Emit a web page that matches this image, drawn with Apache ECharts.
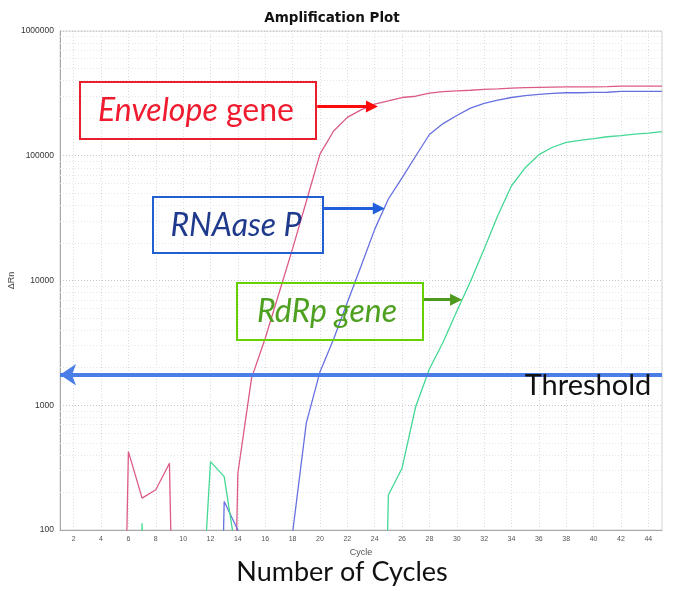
<!DOCTYPE html>
<html><head><meta charset="utf-8">
<script src="https://cdn.jsdelivr.net/npm/echarts@6/dist/echarts.min.js"></script>
<style>html,body{margin:0;padding:0;background:#fff}#c{width:675px;height:591px}</style>
</head><body><div id="c"></div>
<script>
// ---- data ----
const cycles = [1,2,3,4,5,6,7,8,9,10,11,12,13,14,15,16,17,18,19,20,21,22,23,24,25,26,27,28,29,30,31,32,33,34,35,36,37,38,39,40,41,42,43,44,45];
// values below the axis minimum (under detection) are given as 0.001
const envelopeGene = [0.001,0.001,0.001,0.001,0.001,425,180,210,343,0.001,0.001,0.001,0.001,285,1650,3440,7870,18000,43000,103000,158000,203000,233000,259000,275000,293000,300000,318000,326000,331000,335000,340000,343000,348000,351000,353000,355000,357000,357000,357000,358000,361000,361000,361000,361000];
const rnaseP = [0.001,0.001,0.001,0.001,0.001,0.001,0.001,0.001,0.001,0.001,0.001,0.001,169,100,0.001,0.001,0.001,95,718,1850,3400,6650,13000,25700,45000,66500,99500,148000,181000,210000,241000,263000,279000,293000,303000,311000,316000,320000,320000,322000,323000,328000,328000,328000,328000];
const rdrpGene = [0.001,0.001,0.001,0.001,0.001,0.001,113,0.001,0.001,0.001,4.5,353,268,52,0.001,0.001,0.001,0.001,0.001,0.001,0.001,0.001,0.001,0.001,191,313,977,1950,3200,5660,9800,17900,33200,57500,80000,102000,117000,128000,133000,137000,142000,145000,149000,152000,156000];
const xTickValues = [2,4,6,8,10,12,14,16,18,20,22,24,26,28,30,32,34,36,38,40,42,44];
const yMinorValues = [200,300,400,500,600,700,800,900,2000,3000,4000,5000,6000,7000,8000,9000,20000,30000,40000,50000,60000,70000,80000,90000,200000,300000,400000,500000,600000,700000,800000,900000];
const thresholdValue = 1755;
// annotation arrows: [cycle start, cycle end (arrowhead centre), ΔRn]
const envelopeArrow = [19.8, 23.8, 248000];
const rnasePArrow = [20.3, 24.3, 37700];
const rdrpArrow = [27.6, 29.95, 7020];

const pairs = vals => cycles.map((c, i) => [c, vals[i]]);

const chart = echarts.init(document.getElementById('c'), null, {renderer: 'canvas'});
const lineBase = {type: 'line', showSymbol: false, symbol: 'none', clip: true, animation: false, silent: true};
const arrowItem = (a, color) => [
  {coord: [a[0], a[2]], symbol: 'none', lineStyle: {color, width: 3, type: 'solid'}, itemStyle: {color}},
  {coord: [a[1], a[2]], symbol: 'triangle', symbolSize: 12, lineStyle: {color, width: 3, type: 'solid'}, itemStyle: {color}}
];

chart.setOption({
  animation: false,
  backgroundColor: '#fff',
  grid: {left: 60, right: 13, top: 31, bottom: 61, containLabel: false, outerBoundsMode: 'none', show: true, borderColor: '#d4d4d4', borderWidth: 1},
  xAxis: {
    type: 'value', min: 1, max: 45,
    name: 'Cycle', nameLocation: 'middle', nameGap: 18,
    nameTextStyle: {fontFamily: 'Liberation Sans', fontSize: 9, color: '#555'},
    axisLine: {show: true, lineStyle: {color: '#a8a8a8'}},
    axisTick: {show: false, customValues: xTickValues},
    axisLabel: {customValues: xTickValues, fontFamily: 'Liberation Sans', fontSize: 7, color: '#555', margin: 6},
    splitLine: {show: true, lineStyle: {color: '#dcdcdc', type: [1, 2]}}
  },
  yAxis: {
    type: 'log', logBase: 10, min: 100, max: 1000000,
    name: 'ΔRn', nameLocation: 'middle', nameGap: 44, nameRotate: 90, nameMoveOverlap: false,
    nameTextStyle: {fontFamily: 'Liberation Sans', fontSize: 9, color: '#444'},
    axisLine: {show: true, lineStyle: {color: '#a8a8a8'}},
    axisTick: {show: false},
    axisLabel: {fontFamily: 'Liberation Sans', fontSize: 8.5, color: '#333', margin: 6, formatter: v => String(Math.round(v))},
    splitLine: {show: true, lineStyle: {color: '#c8c8c8', type: [1, 2]}}
  },
  series: [
    Object.assign({}, lineBase, {
      name: 'grid', data: [],
      markLine: {silent: true, z: 1, symbol: ['none', 'none'], label: {show: false},
        lineStyle: {color: '#e6e6e6', width: 1, type: [1, 2]},
        data: yMinorValues.map(v => ({yAxis: v}))}
    }),
    Object.assign({}, lineBase, {name: 'Envelope gene', data: pairs(envelopeGene), lineStyle: {color: '#dc5a8a', width: 1.3}, z: 3}),
    Object.assign({}, lineBase, {name: 'RNAase P', data: pairs(rnaseP), lineStyle: {color: '#6670e0', width: 1.3}, z: 3}),
    Object.assign({}, lineBase, {name: 'RdRp gene', data: pairs(rdrpGene), lineStyle: {color: '#44d894', width: 1.3}, z: 3}),
    Object.assign({}, lineBase, {
      name: 'threshold', data: [],
      markLine: {silent: true, z: 6, symbol: ['arrow', 'none'], symbolSize: 16, label: {show: false},
        lineStyle: {color: '#4a7de6', width: 4, type: 'solid'}, itemStyle: {color: '#4a7de6'},
        data: [{yAxis: thresholdValue}]}
    }),
    Object.assign({}, lineBase, {
      name: 'arrows', data: [],
      markLine: {silent: true, z: 6, symbol: ['none', 'triangle'], symbolSize: 12, label: {show: false},
        data: [arrowItem(envelopeArrow, '#ff0a0a'), arrowItem(rnasePArrow, '#1f5fdc'), arrowItem(rdrpArrow, '#4e9a1e')]}
    })
  ],
  graphic: [
    {type: 'text', x: 332, y: 18, z: 10, style: {text: 'Amplification Plot', font: 'bold 13.5px "DejaVu Sans"', fill: '#111', align: 'center', verticalAlign: 'middle'}},
    {type: 'rect', z: 10, shape: {x: 80, y: 82, width: 236, height: 57}, style: {fill: 'none', stroke: '#e8202e', lineWidth: 2}},
    {type: 'text', x: 196, y: 111, z: 10, style: {text: '{i|Envelope} gene', fontFamily: 'Lato', fontSize: 32, fill: '#ee1c2e', align: 'center', verticalAlign: 'middle',
      rich: {i: {fontFamily: 'Lato', fontStyle: 'italic', fontSize: 32, fill: '#ee1c2e'}}}},
    {type: 'rect', z: 10, shape: {x: 153, y: 197, width: 170, height: 56}, style: {fill: 'none', stroke: '#2060d0', lineWidth: 2}},
    {type: 'text', x: 236, y: 226, z: 10, style: {text: 'RNAase P', font: 'italic 32px Lato', fill: '#1f3a8c', align: 'center', verticalAlign: 'middle'}},
    {type: 'rect', z: 10, shape: {x: 237, y: 283, width: 186, height: 57}, style: {fill: 'none', stroke: '#66d000', lineWidth: 2}},
    {type: 'text', x: 327, y: 312, z: 10, style: {text: 'RdRp gene', font: 'italic 32px Lato', fill: '#4ea020', align: 'center', verticalAlign: 'middle'}},
    {type: 'text', x: 588, y: 386, z: 10, style: {text: 'Threshold', font: '29px Lato', fill: '#111', align: 'center', verticalAlign: 'middle'}},
    {type: 'text', x: 342, y: 572, z: 10, style: {text: 'Number of Cycles', font: '27px Lato', fill: '#111', align: 'center', verticalAlign: 'middle'}}
  ]
});
</script></body></html>
